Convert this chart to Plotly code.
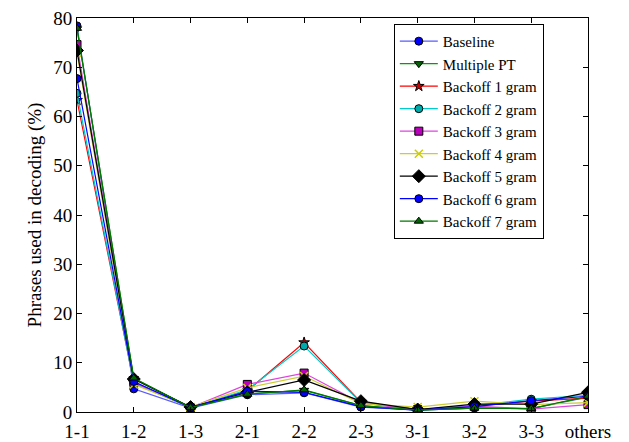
import plotly.graph_objects as go

categories = ["1-1", "1-2", "1-3", "2-1", "2-2", "2-3", "3-1", "3-2", "3-3", "others"]

baseline = [78.4, 4.7, 0.8, 3.5, 3.9, 1.0, 0.4, 0.8, 0.7, 3.0]
multiple_pt = [77.8, 6.8, 0.9, 3.7, 4.4, 1.3, 0.4, 0.8, 0.7, 3.1]
backoff_1 = [63.3, 6.0, 0.9, 4.3, 14.1, 2.0, 0.5, 1.2, 2.2, 2.8]
backoff_2 = [64.7, 5.8, 0.9, 4.5, 13.4, 1.9, 0.5, 1.3, 2.6, 3.4]
backoff_3 = [74.6, 6.0, 0.9, 5.6, 7.9, 1.8, 0.5, 1.2, 0.6, 1.5]
backoff_4 = [72.9, 5.6, 1.0, 4.9, 7.3, 1.7, 1.0, 2.2, 1.5, 1.9]
backoff_5 = [73.4, 6.7, 1.0, 4.0, 6.5, 2.2, 0.5, 1.6, 1.6, 4.0]
backoff_6 = [67.7, 6.2, 0.9, 4.2, 4.0, 1.1, 0.4, 1.1, 2.3, 3.2]
backoff_7 = [77.9, 6.9, 0.9, 3.6, 4.5, 1.3, 0.4, 0.8, 0.7, 3.2]

y_ticks = [0, 10, 20, 30, 40, 50, 60, 70, 80]

series = [
    ("Baseline", baseline, "#5a5aff", "circle", "#0000ff", 8),
    ("Multiple PT", multiple_pt, "#00a000", "triangle-down", "#006600", 8),
    ("Backoff 1 gram", backoff_1, "#ff0000", "star", "#cc0000", 8),
    ("Backoff 2 gram", backoff_2, "#00cccc", "circle", "#00aaaa", 8),
    ("Backoff 3 gram", backoff_3, "#dd44dd", "square", "#bb00bb", 8),
    ("Backoff 4 gram", backoff_4, "#cccc33", "x-thin", "#cccc00", 8),
    ("Backoff 5 gram", backoff_5, "#000000", "diamond", "#000000", 10),
    ("Backoff 6 gram", backoff_6, "#0000ff", "circle", "#0000ff", 8),
    ("Backoff 7 gram", backoff_7, "#007700", "triangle-up", "#006600", 8),
]

xs = list(range(len(categories)))
fig = go.Figure()
for name, vals, lc, sym, mc, ms in series:
    marker = dict(symbol=sym, size=ms, color=mc, line=dict(color="black", width=1))
    if sym == "x-thin":
        marker = dict(symbol=sym, size=ms, color=mc, line=dict(color=mc, width=1.5))
    fig.add_trace(go.Scatter(
        x=xs, y=vals, name=name, mode="lines+markers",
        line=dict(color=lc, width=1.2), marker=marker,
    ))

font_family = "Liberation Serif"
# page body has an 8px margin, so the figure is 621x434 to fill the 629x442 window
fig.update_layout(
    width=621, height=434,
    margin=dict(l=69, r=41, t=10, b=30, autoexpand=False),
    plot_bgcolor="white", paper_bgcolor="white",
    font=dict(family=font_family, size=19, color="black"),
    showlegend=True,
    legend=dict(
        x=0.62, y=0.985, xanchor="left", yanchor="top",
        bgcolor="white", bordercolor="black", borderwidth=1,
        font=dict(family=font_family, size=15, color="black"),
        tracegroupgap=0, itemwidth=38,
    ),
)
fig.update_xaxes(
    range=[0, 9], tickmode="array", tickvals=xs, ticktext=categories,
    ticks="inside", ticklen=5, tickcolor="black", showline=True, linecolor="black",
    linewidth=1, mirror="ticks", showgrid=False, zeroline=False, automargin=False,
    tickfont=dict(family=font_family, size=19), ticklabelstandoff=2,
    ticklabeloverflow="allow",
)
fig.update_yaxes(
    range=[0, 80], tickmode="array", tickvals=y_ticks,
    ticks="inside", ticklen=5, tickcolor="black", showline=True, linecolor="black",
    linewidth=1, mirror="ticks", showgrid=False, zeroline=False, automargin=False,
    title=dict(text="Phrases used in decoding (%)", font=dict(family=font_family, size=19), standoff=6),
    tickfont=dict(family=font_family, size=19), ticklabeloverflow="allow",
)
fig.write_html("out.html")
